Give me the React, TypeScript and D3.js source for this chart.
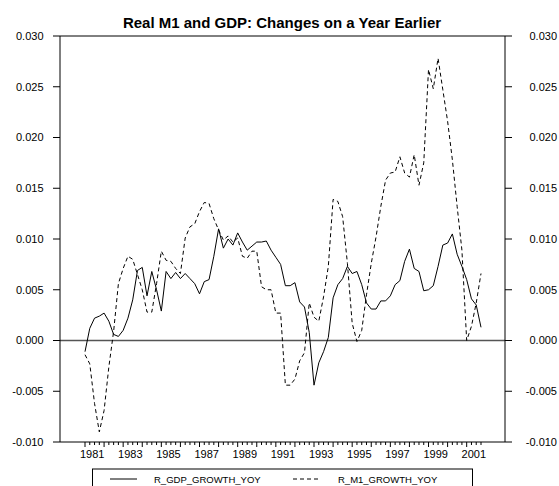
import React from "react";
import * as d3 from "d3";

// quarterly observations, 1981Q1 .. 2001Q4
const startYear = 1981;
const gdpGrowth = [
  -0.0011, 0.0012, 0.0022, 0.0024, 0.0027, 0.0019, 0.0006, 0.0004,
  0.001, 0.0022, 0.004, 0.0069, 0.0072, 0.0044, 0.0068, 0.005,
  0.0029, 0.0068, 0.0061, 0.0067, 0.0061, 0.0066, 0.0061, 0.0056,
  0.0046, 0.0058, 0.006, 0.0083, 0.011, 0.0091, 0.01, 0.0094,
  0.0106, 0.0097, 0.0089, 0.0093, 0.0097, 0.0097, 0.0098, 0.0089,
  0.0082, 0.0075, 0.0054, 0.0054, 0.0057, 0.0038, 0.0033, 0.0008,
  -0.0044, -0.0022, -0.0011, 0.0003, 0.0042, 0.0055, 0.0061, 0.0073,
  0.0066, 0.0068, 0.0055, 0.0037, 0.0031, 0.0031, 0.0039, 0.0039,
  0.0044, 0.0055, 0.0059, 0.0078, 0.009, 0.0071, 0.0068, 0.0049,
  0.005, 0.0054, 0.0073, 0.0094, 0.0096, 0.0105, 0.0085, 0.0073,
  0.006, 0.0041, 0.0035, 0.0013,
];
const m1Growth = [
  -0.0014, -0.0023, -0.0062, -0.009, -0.0069, -0.0026, 0.0009, 0.0056,
  0.0071, 0.0083, 0.008, 0.0065, 0.005, 0.0028, 0.0028, 0.0056,
  0.0088, 0.0079, 0.0078, 0.0071, 0.0066, 0.0101, 0.0112, 0.0115,
  0.0127, 0.0136, 0.0135, 0.012, 0.0109, 0.0099, 0.0103, 0.0097,
  0.0101, 0.0083, 0.0081, 0.0088, 0.0088, 0.0053, 0.005, 0.005,
  0.0027, 0.0027, -0.0044, -0.0044, -0.0038, -0.002, -0.0012, 0.0037,
  0.0023, 0.0019, 0.0043, 0.0073, 0.0139, 0.0137, 0.0122, 0.0076,
  0.0017, -0.0001, 0.001, 0.0045, 0.0076, 0.0102, 0.0132, 0.0158,
  0.0165, 0.0166, 0.0181, 0.0165, 0.0161, 0.0183, 0.0153, 0.0175,
  0.0267, 0.0248, 0.0278, 0.0247, 0.0216, 0.0178, 0.0132, 0.0089,
  0.0, 0.0014, 0.0037, 0.0066,
];
const yTicks = [-0.01, -0.005, 0, 0.005, 0.01, 0.015, 0.02, 0.025, 0.03];
const yearLabels = ["1981", "1983", "1985", "1987", "1989", "1991", "1993", "1995", "1997", "1999", "2001"];
const seriesNames = ["R_GDP_GROWTH_YOY", "R_M1_GROWTH_YOY"];

const W = 559;
const H = 486;
const left = 60;
const right = 505;
const top = 36;
const bottom = 442;
const font = "Arial, 'Liberation Sans', sans-serif";

export default function App() {
  const n = gdpGrowth.length;
  const x = d3.scaleLinear().domain([0, n - 1]).range([85, 481]);
  const y = d3.scaleLinear().domain([-0.01, 0.03]).range([bottom, top]);

  const line = d3
    .line<number>()
    .x((_, i) => x(i))
    .y((d) => y(d));

  const quarterTicks = d3.range(n);

  return (
    <svg
      width={W}
      height={H}
      style={{ position: "absolute", left: 0, top: 0, background: "#fff" }}
      fontFamily={font}
    >
      <text x={282} y={28} textAnchor="middle" fontSize={15} fontWeight="bold">
        Real M1 and GDP: Changes on a Year Earlier
      </text>

      {/* zero line */}
      <line x1={left} x2={right} y1={y(0)} y2={y(0)} stroke="#555" strokeWidth={1.3} />

      <path d={line(m1Growth) ?? ""} fill="none" stroke="#000" strokeWidth={1} strokeDasharray="4,3" />
      <path d={line(gdpGrowth) ?? ""} fill="none" stroke="#000" strokeWidth={1} />

      {/* frame */}
      <line x1={left} x2={left} y1={top} y2={bottom} stroke="#000" />
      <line x1={right} x2={right} y1={top} y2={bottom} stroke="#000" />
      <line x1={left} x2={right} y1={top} y2={top} stroke="#000" />
      <line x1={left} x2={right} y1={bottom} y2={bottom} stroke="#000" />

      {yTicks.map((t) => (
        <g key={t}>
          <line x1={left - 7} x2={left} y1={y(t)} y2={y(t)} stroke="#000" />
          <line x1={right} x2={right + 7} y1={y(t)} y2={y(t)} stroke="#000" />
          <text x={43.5} y={y(t)} dy="0.35em" textAnchor="end" fontSize={11}>
            {d3.format(".3f")(t).replace("−", "-")}
          </text>
          <text x={557} y={y(t)} dy="0.35em" textAnchor="end" fontSize={11}>
            {d3.format(".3f")(t).replace("−", "-")}
          </text>
        </g>
      ))}

      {quarterTicks.map((i) => (
        <line
          key={i}
          x1={x(i)}
          x2={x(i)}
          y1={bottom}
          y2={bottom + (i % 4 === 0 ? 5 : 3)}
          stroke="#000"
        />
      ))}
      {yearLabels.map((lab) => (
        <text
          key={lab}
          x={x((+lab - startYear) * 4 + 1.5)}
          y={457.5}
          textAnchor="middle"
          fontSize={11}
        >
          {lab}
        </text>
      ))}

      {/* legend */}
      <rect x={92.5} y={469} width={380} height={30} fill="none" stroke="#000" />
      <line x1={110} x2={137} y1={479} y2={479} stroke="#000" />
      <text x={154} y={482.5} fontSize={9.5}>
        {seriesNames[0]}
      </text>
      <line x1={293} x2={318} y1={479} y2={479} stroke="#000" strokeDasharray="4,3" />
      <text x={338} y={482.5} fontSize={9.5}>
        {seriesNames[1]}
      </text>
    </svg>
  );
}
